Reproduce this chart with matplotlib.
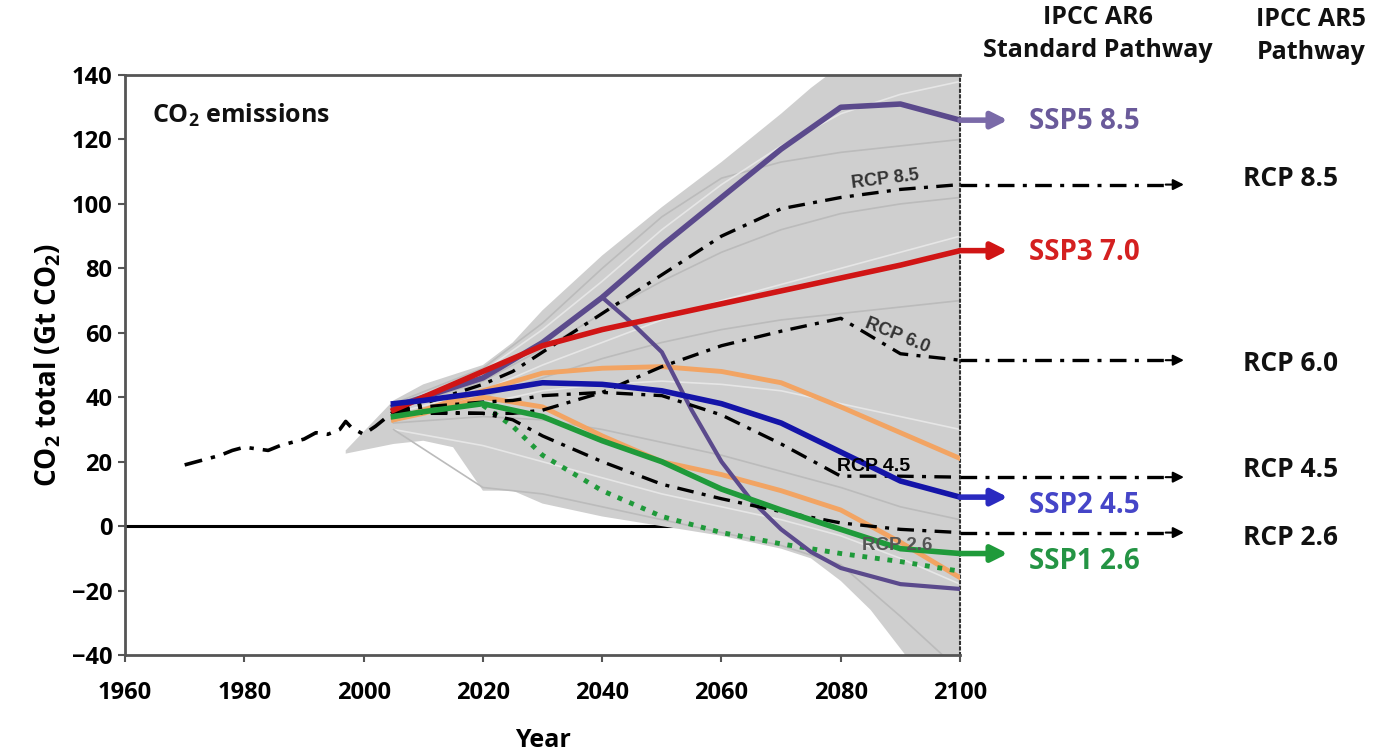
import matplotlib
matplotlib.use("Agg")
from matplotlib import pyplot as plt

plt.rcParams['font.family'] = ['Open Sans', 'DejaVu Sans']
plt.rcParams['mathtext.fontset'] = 'custom'
plt.rcParams['mathtext.rm'] = 'Open Sans:bold'
plt.rcParams['mathtext.default'] = 'rm'

# historical emissions (dash-dot)
hist_years = [1970, 1972, 1974, 1976, 1978, 1980, 1982, 1984, 1986, 1988, 1990,
              1992, 1994, 1996, 1997, 1998, 2000, 2002, 2004, 2005]
hist_co2 = [19, 20, 21, 22, 23.5, 24.5, 24, 23.5, 25, 26, 27,
            29, 28.5, 30, 32.5, 30.5, 28.5, 31, 34, 35.5]

# AR5 RCP pathways
rcp_years = [2005, 2010, 2020, 2025, 2030, 2040, 2050, 2060, 2070, 2080, 2090, 2100]
rcp85 = [35.5, 38, 44, 48, 54, 66, 78, 90, 98.5, 102, 104.5, 106]
rcp60 = [35.5, 35.5, 35, 35, 36, 41.5, 49.5, 56, 60.5, 64.5, 53.5, 51.5]
rcp45 = [35.5, 37, 38.5, 39, 40.5, 41.5, 40.5, 34.5, 25.5, 15.5, 15.5, 15.2]
rcp26 = [35.5, 35, 35, 33, 28, 20, 13, 8.5, 4.5, 1, -1, -2]
rcp_names = ['RCP 8.5', 'RCP 6.0', 'RCP 4.5', 'RCP 2.6']

# AR6 SSP pathways
ssp_years = [2005, 2010, 2020, 2030, 2040, 2050, 2060, 2070, 2080, 2090, 2100]
ssp585 = [37, 40, 46, 57, 71, 87, 102, 117, 130, 131, 126]
ssp370 = [36, 40, 48, 56, 61, 65, 69, 73, 77, 81, 85.5]
ssp245 = [38, 39, 41.5, 44.5, 44, 42, 38, 32, 23, 14, 9]
ssp126 = [34, 35.5, 38, 34, 26.5, 20, 11.5, 5, -1, -7, -8.5]
orange_hi = [33, 36, 42, 47.5, 49, 49.5, 48, 44.5, 37, 29, 21]
orange_lo = [33, 35, 40, 37, 28, 20, 16, 11, 5, -5, -16]

os_years = [2040, 2045, 2050, 2055, 2060, 2065, 2070, 2075, 2080, 2090, 2100]
ssp_overshoot = [71, 63, 54, 36, 20, 8, -1, -8, -13, -18, -19.5]

dot_years = [2020, 2025, 2030, 2040, 2050, 2060, 2070, 2080, 2090, 2100]
ssp119 = [37.5, 31, 22, 11, 3, -2, -5.5, -8.5, -11, -14]

# scenario ensemble envelope
ens_years = [1997, 2005, 2010, 2015, 2020, 2025, 2030, 2040, 2050, 2060,
             2070, 2075, 2080, 2085, 2090, 2095, 2100]
ens_hi = [23.5, 39, 44, 47, 50, 57, 67, 84, 99, 113, 128, 136, 143, 150, 158, 165, 172]
ens_lo = [22.5, 25.5, 26.5, 24.5, 11, 11, 7, 3, 0, -3, -7, -10, -17, -26, -38, -50, -62]

# a few individual ensemble members
grey_years = [2005, 2020, 2030, 2040, 2050, 2060, 2070, 2080, 2090, 2100]
grey_runs = [
    [38, 49, 63, 80, 96, 108, 113, 116, 118, 120],
    [37, 48, 61, 76, 92, 106, 118, 128, 134, 138],
    [36, 45, 55, 66, 76, 85, 92, 97, 100, 102],
    [35, 42, 50, 57, 64, 70, 75, 80, 85, 90],
    [34, 40, 46, 52, 57, 61, 64, 66, 68, 70],
    [33, 38, 42, 44, 45, 44, 42, 38, 34, 30],
    [32, 34, 33, 30, 26, 22, 17, 12, 6, 2],
    [30, 25, 20, 15, 10, 6, 2, -3, -10, -18],
    [30, 12, 10, 6, 2, -2, -6, -12, -28, -45],
]

fig = plt.figure(figsize=(13.83, 7.51), dpi=100)
ax = fig.add_axes([0.0904, 0.1278, 0.6038, 0.7723])

ax.axhline(0, color='black', lw=2.2, zorder=0.5)
ax.fill_between(ens_years, ens_lo, ens_hi, color='#cfcfcf', lw=0, zorder=1)
for i, run in enumerate(grey_runs):
    ax.plot(grey_years, run, color='#e6e6e6' if i % 2 else '#bbbbbb', lw=1.2, zorder=1.5)

dashdot = (0, (5, 2.5, 1.2, 2.5))
ax.plot(hist_years, hist_co2, color='black', lw=2.6, ls=dashdot, zorder=4)

orange = '#f2a463'
ax.plot(ssp_years, orange_hi, color=orange, lw=3.5, zorder=3)
ax.plot(ssp_years, orange_lo, color=orange, lw=3.5, zorder=3)
ax.plot(dot_years, ssp119, color='#1f9a3a', lw=3.5, ls=(0, (1, 1.6)), zorder=3)
ax.plot(os_years, ssp_overshoot, color='#5b4a8c', lw=3, zorder=3)

for vals in [rcp85, rcp60, rcp45, rcp26]:
    ax.plot(rcp_years, vals, color='black', lw=2.4, ls=dashdot, zorder=4)
    ax.plot([rcp_years[-1], 2136], [vals[-1], vals[-1]], color='black', lw=2.4,
            ls=dashdot, clip_on=False, zorder=4)
    ax.annotate('', xy=(2138, vals[-1]), xytext=(2134, vals[-1]), annotation_clip=False,
                arrowprops=dict(arrowstyle='-|>', color='black', lw=1.5, mutation_scale=16))

ssp_series = [
    (ssp585, '#5b4a8c', '#7a6aa8', '#6a5a9a', 'SSP5 8.5'),
    (ssp370, '#d01515', '#d01515', '#d42020', 'SSP3 7.0'),
    (ssp245, '#1414a8', '#2a2ac0', '#4545c8', 'SSP2 4.5'),
    (ssp126, '#1f9a3a', '#1f9a3a', '#249444', 'SSP1 2.6'),
]
for vals, col, arrow_col, txt_col, name in ssp_series:
    ax.plot(ssp_years, vals, color=col, lw=4, zorder=5)
    ax.annotate('', xy=(2108, vals[-1]), xytext=(2100, vals[-1]), annotation_clip=False,
                arrowprops=dict(arrowstyle='-|>', color=arrow_col, lw=4, mutation_scale=24,
                                shrinkA=0, shrinkB=0), zorder=5)

# pathway labels on the right
ssp_label_y = [125.5, 85, 6.5, -11]
for (vals, col, arrow_col, txt_col, name), y in zip(ssp_series, ssp_label_y):
    ax.text(2111.5, y, name, color=txt_col, fontsize=20, fontweight='bold',
            va='center', ha='left', clip_on=False)
rcp_label_y = [108, 50.5, 17.5, -3.5]
for name, y in zip(rcp_names, rcp_label_y):
    ax.text(2147.5, y, name, color='#111111', fontsize=19, fontweight='bold',
            va='center', ha='left', clip_on=False)

# labels on the RCP curves
ax.text(2087.5, 107.5, 'RCP 8.5', fontsize=13, color='#333333', fontweight='bold',
        rotation=7, ha='center', va='center', zorder=6, family='Liberation Sans')
ax.text(2089.5, 59, 'RCP 6.0', fontsize=13, color='#333333', fontweight='bold',
        rotation=-22, ha='center', va='center', zorder=6, family='Liberation Sans')
ax.text(2085.5, 18.5, 'RCP 4.5', fontsize=14, color='black', fontweight='bold',
        ha='center', va='center', zorder=6, family='Liberation Sans')
ax.text(2089.5, -6, 'RCP 2.6', fontsize=13.5, color='#555555', fontweight='bold',
        ha='center', va='center', zorder=6, family='Liberation Sans')

ax.text(1964.5, 127.5, 'CO$_2$ emissions', fontsize=18, fontweight='bold',
        ha='left', va='center', color='#111111')

fig.text(0.794, 0.994, 'IPCC AR6\nStandard Pathway', fontsize=18, fontweight='bold',
         ha='center', va='top', linespacing=1.45, color='#111111')
fig.text(0.948, 0.991, 'IPCC AR5\nPathway', fontsize=18, fontweight='bold',
         ha='center', va='top', linespacing=1.45, color='#111111')

ax.set_xlim(1960, 2100)
ax.set_ylim(-40, 140)
ax.set_xticks(range(1960, 2101, 20))
ax.set_yticks(range(-40, 141, 20))
ax.set_yticklabels([str(v).replace('-', '\u2212') for v in range(-40, 141, 20)])
ax.tick_params(labelsize=17, width=1.5, length=5, color='#555555')
ax.tick_params(axis='x', pad=14)
ax.tick_params(axis='y', pad=4)
for lab in ax.get_xticklabels() + ax.get_yticklabels():
    lab.set_fontweight('bold')

ax.set_xlabel('Year', fontsize=18, fontweight='bold', labelpad=16)
ax.set_ylabel('CO$_2$ total (Gt CO$_2$)', fontsize=20, fontweight='bold', labelpad=6)

for side in ['left', 'bottom', 'top']:
    ax.spines[side].set_color('#555555')
    ax.spines[side].set_linewidth(2)
ax.spines['right'].set_linestyle(':')
ax.spines['right'].set_color('#333333')
ax.spines['right'].set_linewidth(1.5)

fig.savefig('out.png', dpi=100)
